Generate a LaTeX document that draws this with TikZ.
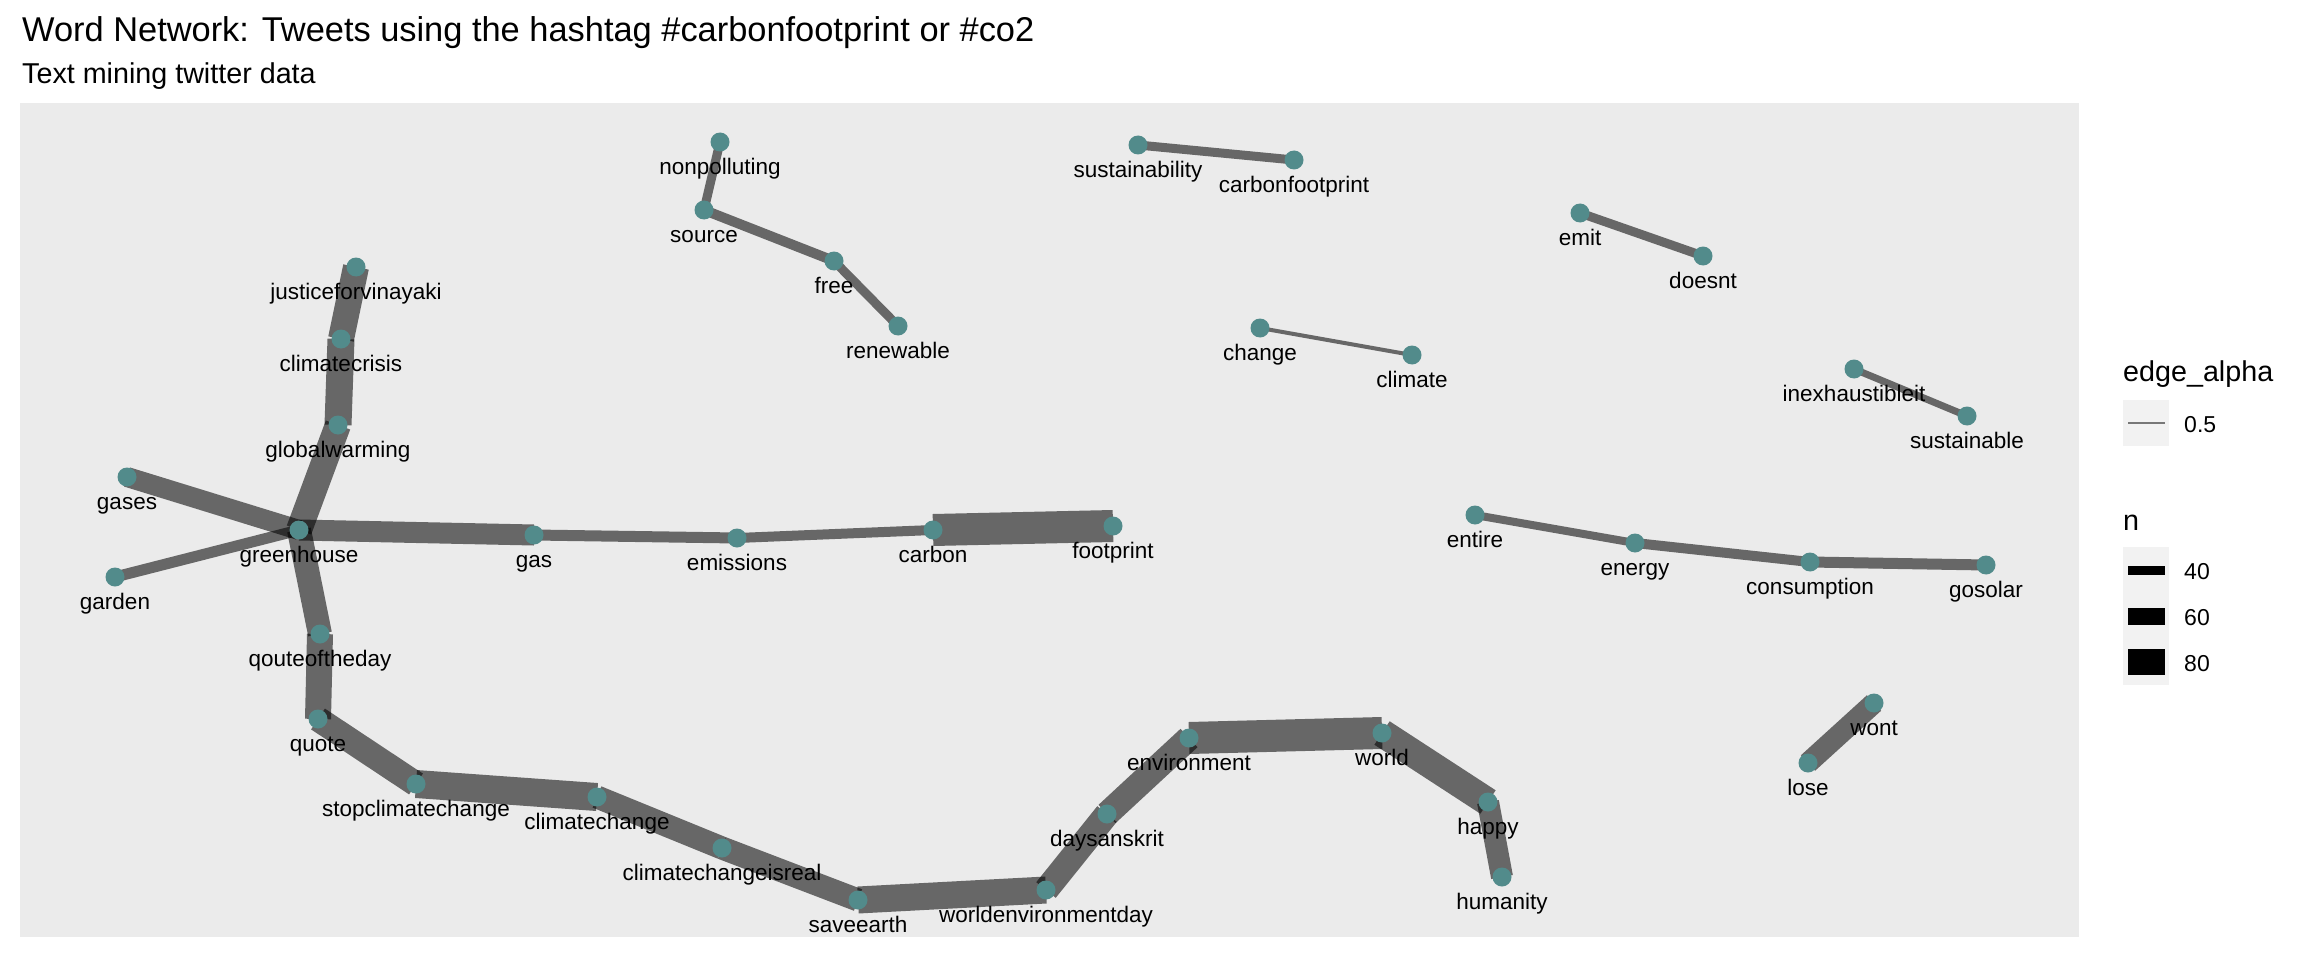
\documentclass[tikz,border=0pt]{standalone}
\usepackage{fontspec}
\setmainfont{Liberation Sans}
\definecolor{panelgrey}{HTML}{EBEBEB}
\definecolor{keygrey}{HTML}{F2F2F2}
\definecolor{dotcol}{HTML}{528B8B}
\pgfdeclarelayer{panel}
\pgfdeclarelayer{edges}
\pgfsetlayers{panel,edges,main}
\tikzset{
  dot/.style={circle,fill=dotcol,draw=none,minimum size=19pt,inner sep=0pt},
  lab/.style={anchor=base,inner sep=0pt,font=\fontsize{22.5}{27}\selectfont},
  edgeline/.style={draw=black,draw opacity=0.56,line cap=butt},
  legtitle/.style={anchor=base west,inner sep=0pt,font=\fontsize{28.7}{34}\selectfont},
  leglab/.style={anchor=base west,inner sep=0pt,font=\fontsize{23}{28}\selectfont},
}
\newcommand\wnode[4]{\node[dot] (#1) at (#2,#3) {}; \node[lab] (#1-l) at (#2,#3+32.5) {#4};}
\newcommand\wlink[3]{\begin{pgfonlayer}{edges}\draw[edgeline,line width=#3pt] (#1.center) -- (#2.center);\end{pgfonlayer}}
\begin{document}
\begin{tikzpicture}[x=1pt,y=-1pt]
\useasboundingbox (0,0) rectangle (2304,960);
\begin{pgfonlayer}{panel}
\fill[white] (0,0) rectangle (2304,960);
\fill[panelgrey] (20,103) rectangle (2079,937);
\end{pgfonlayer}
% titles
\node[anchor=base west,inner sep=0pt,font=\fontsize{34.4}{40}\selectfont] (title) at (22,42) {Word Network: Tweets using the hashtag \#carbonfootprint or \#co2};
\node[anchor=base west,inner sep=0pt,font=\fontsize{28.7}{34}\selectfont] (subtitle) at (22,83.3) {Text mining twitter data};
% nodes
\wnode{justice}{356}{267}{justiceforvinayaki}
\wnode{climatecrisis}{341}{339}{climatecrisis}
\wnode{globalwarming}{338}{425}{globalwarming}
\wnode{gases}{127}{477}{gases}
\wnode{greenhouse}{299}{530}{greenhouse}
\wnode{garden}{115}{577}{garden}
\wnode{gas}{534}{535}{gas}
\wnode{emissions}{737}{538}{emissions}
\wnode{carbon}{933}{530}{carbon}
\wnode{footprint}{1113}{526}{footprint}
\wnode{qouteoftheday}{320}{634}{qouteoftheday}
\wnode{quote}{318}{719}{quote}
\wnode{stopclimatechange}{416}{784}{stopclimatechange}
\wnode{climatechange}{597}{797}{climatechange}
\wnode{climatechangeisreal}{722}{848}{climatechangeisreal}
\wnode{saveearth}{858}{900}{saveearth}
\wnode{worldenvironmentday}{1046}{890}{worldenvironmentday}
\wnode{daysanskrit}{1107}{814}{daysanskrit}
\wnode{environment}{1189}{738}{environment}
\wnode{world}{1382}{733}{world}
\wnode{happy}{1488}{802}{happy}
\wnode{humanity}{1502}{877}{humanity}
\wnode{nonpolluting}{720}{142}{nonpolluting}
\wnode{source}{704}{210}{source}
\wnode{free}{834}{261}{free}
\wnode{renewable}{898}{326}{renewable}
\wnode{sustainability}{1138}{145}{sustainability}
\wnode{carbonfootprint}{1294}{160}{carbonfootprint}
\wnode{change}{1260}{328}{change}
\wnode{climate}{1412}{355}{climate}
\wnode{emit}{1580}{213}{emit}
\wnode{doesnt}{1703}{256}{doesnt}
\wnode{inexhaustibleit}{1854}{369}{inexhaustibleit}
\wnode{sustainable}{1967}{416}{sustainable}
\wnode{entire}{1475}{515}{entire}
\wnode{energy}{1635}{543}{energy}
\wnode{consumption}{1810}{562}{consumption}
\wnode{gosolar}{1986}{565}{gosolar}
\wnode{wont}{1874}{703}{wont}
\wnode{lose}{1808}{763}{lose}
% edges
\wlink{justice}{climatecrisis}{26}
\wlink{climatecrisis}{globalwarming}{27}
\wlink{globalwarming}{greenhouse}{26}
\wlink{greenhouse}{gases}{20}
\wlink{greenhouse}{garden}{11}
\wlink{greenhouse}{gas}{21}
\wlink{gas}{emissions}{11}
\wlink{emissions}{carbon}{10}
\wlink{carbon}{footprint}{32}
\wlink{greenhouse}{qouteoftheday}{24}
\wlink{qouteoftheday}{quote}{26}
\wlink{quote}{stopclimatechange}{25}
\wlink{stopclimatechange}{climatechange}{28}
\wlink{climatechange}{climatechangeisreal}{23}
\wlink{climatechangeisreal}{saveearth}{23}
\wlink{saveearth}{worldenvironmentday}{27}
\wlink{worldenvironmentday}{daysanskrit}{25}
\wlink{daysanskrit}{environment}{25}
\wlink{environment}{world}{32}
\wlink{world}{happy}{28}
\wlink{happy}{humanity}{22}
\wlink{nonpolluting}{source}{9}
\wlink{source}{free}{10}
\wlink{free}{renewable}{9}
\wlink{sustainability}{carbonfootprint}{9}
\wlink{change}{climate}{4}
\wlink{emit}{doesnt}{9}
\wlink{inexhaustibleit}{sustainable}{7}
\wlink{entire}{energy}{8}
\wlink{energy}{consumption}{10}
\wlink{consumption}{gosolar}{11}
\wlink{wont}{lose}{21}
% legend
\node[legtitle] (lt1) at (2123,381.7) {edge\_alpha};
\fill[keygrey] (2123,400) rectangle (2169,446);
\coordinate (ka1) at (2128,423);
\coordinate (ka2) at (2165,423);
\draw[black,draw opacity=0.5,line width=1.5pt] (ka1) -- (ka2);
\node[leglab] (la1) at (2184,432.7) {0.5};
\node[legtitle] (lt2) at (2123,530) {n};
\fill[keygrey] (2123,547) rectangle (2169,685);
\coordinate (k40a) at (2128,570); \coordinate (k40b) at (2165,570);
\coordinate (k60a) at (2128,616); \coordinate (k60b) at (2165,616);
\coordinate (k80a) at (2128,662); \coordinate (k80b) at (2165,662);
\draw[black,line width=9pt] (k40a) -- (k40b);
\draw[black,line width=17pt] (k60a) -- (k60b);
\draw[black,line width=26pt] (k80a) -- (k80b);
\node[leglab] (l40) at (2184,579) {40};
\node[leglab] (l60) at (2184,625) {60};
\node[leglab] (l80) at (2184,671) {80};
\end{tikzpicture}
\end{document}
